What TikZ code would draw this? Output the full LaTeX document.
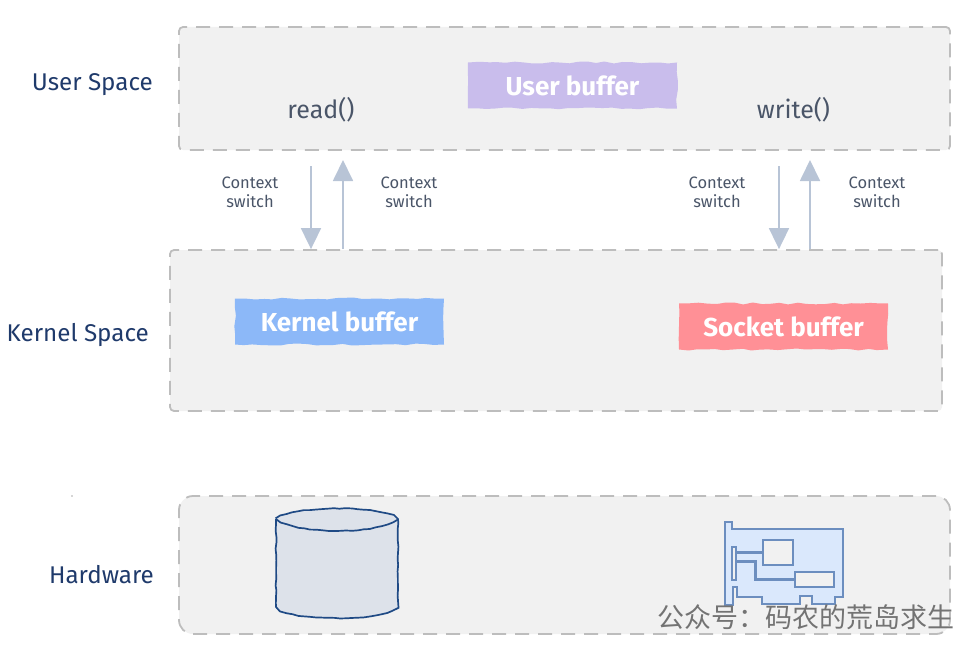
\documentclass[tikz,border=0pt]{standalone}
\usepackage{fontspec}
\setmainfont{Fira Sans}
\newfontfamily\cjk{Noto Sans CJK SC}
\usetikzlibrary{positioning,arrows.meta,decorations.pathmorphing}
\definecolor{navy}{HTML}{1F3A6B}
\definecolor{slate}{HTML}{4A5568}
\definecolor{arrowc}{HTML}{B8C4D6}
\definecolor{panelc}{HTML}{F1F1F1}
\definecolor{dashc}{HTML}{BDBDBD}
\definecolor{userc}{HTML}{C9BDEC}
\definecolor{kernelc}{HTML}{8CB8F8}
\definecolor{socketc}{HTML}{FF9096}
\definecolor{diskc}{HTML}{DDE2EA}
\definecolor{diskl}{HTML}{1F4A85}
\definecolor{cardc}{HTML}{6C8EBF}
\definecolor{cardf}{HTML}{DAE8FC}
\tikzstyle{panel}=[draw=dashc,fill=panelc,line width=1.8pt,rounded corners=4pt,dash pattern=on 14pt off 9pt,inner sep=0pt]
\tikzstyle{buffer}=[fill=#1,text=white,font=\fontsize{26}{28}\selectfont\bfseries,minimum width=209pt,minimum height=46pt,inner sep=0pt,decorate,decoration={random steps,segment length=9pt,amplitude=1pt}]
\tikzstyle{layer}=[text=navy,font=\fontsize{24.2}{26}\selectfont,anchor=east,inner sep=0pt]
\tikzstyle{call}=[text=slate,font=\fontsize{25}{27}\selectfont,inner sep=0pt]
\tikzstyle{switch}=[text=slate,font=\fontsize{16.5}{19}\selectfont,align=center,inner sep=0pt]
\tikzstyle{flow}=[-{Triangle[length=21pt,width=20pt]},draw=arrowc,line width=1.8pt]
\tikzstyle{wob}=[decorate,decoration={random steps,segment length=6pt,amplitude=.45pt}]
\newcommand{\myswitch}[2]{\node[switch] (#1) at (#2) {Context\\switch};}
\begin{document}
\begin{tikzpicture}[x=1pt,y=-1pt]
    \pgfmathsetseed{7}
    \useasboundingbox (0,0) rectangle (974,650);
    % the three layers
    \node[panel,minimum width=771pt,minimum height=123pt] (user) at (564.5,88.5) {};
    \node[panel,minimum width=772pt,minimum height=161pt] (kernel) at (556,330.5) {};
    \node[panel,minimum width=771pt,minimum height=138pt,rounded corners=14pt] (hardware) at (564.5,565) {};

    \node[layer] (userlabel) at (153,85) {User Space};
    \node[layer] (kernellabel) at (149,335) {Kernel Space};
    \node[layer] (hardwarelabel) at (154,575) {Hardware};
    \fill[black!70] (72,496) circle (.6pt);

    \node[buffer=userc] (userbuf) at (572.5,85.5) {User buffer};
    \node[buffer=kernelc] (kernelbuf) at (339.5,321.5) {Kernel buffer};
    \node[buffer=socketc] (socketbuf) at (783.5,326.5) {Socket buffer};

    \node[call] (read) at (321,110) {read()};
    \node[call] (write) at (793.5,110) {write()};

    \myswitch{ctxa}{250,192.5}
    \myswitch{ctxb}{409,192.5}
    \myswitch{ctxc}{717,192.5}
    \myswitch{ctxd}{877,192.5}

    % arrows between user and kernel
    \coordinate (reada) at (311,166);
    \coordinate (readb) at (343,160);
    \coordinate (writea) at (779,166);
    \coordinate (writeb) at (810,160);
    \draw[flow] (reada) -- (reada |- kernel.north);
    \draw[flow] (readb |- kernel.north) -- (readb);
    \draw[flow] (writea) -- (writea |- kernel.north);
    \draw[flow] (writeb |- kernel.north) -- (writeb);

    % disk
    \draw[wob,draw=diskl,fill=diskc,line width=1.7pt] (276,519) -- (276,607) .. controls (290,622) and (385,622) .. (398,607) -- (398,519) .. controls (385,505) and (290,505) .. (276,519) -- cycle;
    \draw[wob,draw=diskl,line width=1.7pt] (276,519) .. controls (300,535) and (375,535) .. (398,519);

    % network card
    \begin{scope}[shift={(680,490)},x=.3333pt,y=-.3333pt,draw=cardc,line width=2.2pt]
        \draw[fill=cardf] (134,97) -- (156,97) -- (156,118) -- (490,118) -- (490,320) -- (465,320) -- (465,342) -- (395,342) -- (395,318) -- (360,318) -- (360,342) -- (245,342) -- (245,320) -- (170,320) -- (170,292) -- (158,292) -- (158,345) -- (134,345) -- cycle;
        \draw[fill=panelc] (155,172) rectangle (169,270);
        \draw[fill=panelc] (250,151) rectangle (340,225);
        \draw[fill=panelc] (346,245) rectangle (463,292);
        \draw[line width=3.5pt] (169,187) -- (250,187);
        \draw[line width=3.5pt] (169,215) -- (226,215) -- (226,268) -- (346,268);
    \end{scope}

    \node[text=black!55,font=\cjk\fontsize{27}{29}\selectfont,anchor=east,inner sep=0pt] (mark) at (955,617) {公众号：码农的荒岛求生};
\end{tikzpicture}
\end{document}
